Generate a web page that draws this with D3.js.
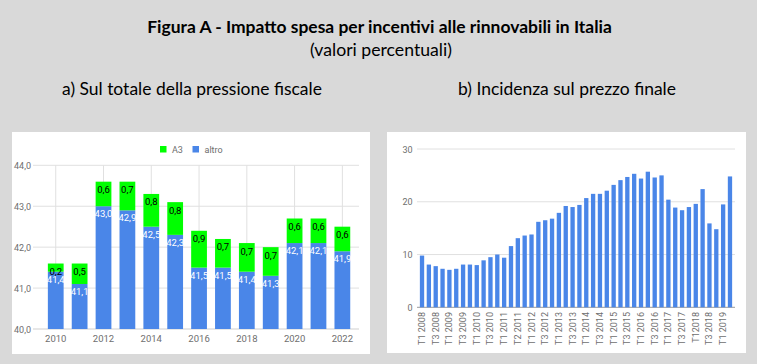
<!DOCTYPE html>
<html><head><meta charset="utf-8">
<script src="https://cdn.jsdelivr.net/npm/d3@7"></script>
<style>
html,body{margin:0;padding:0;background:#d9d9d9;}
svg{display:block;}
</style></head>
<body>
<svg id="c" width="757" height="364"></svg>
<script>
// ---- Data: panel a) ----
const years = [2010,2011,2012,2013,2014,2015,2016,2017,2018,2019,2020,2021,2022];
const altro = [41.4,41.1,43.0,42.9,42.5,42.3,41.5,41.5,41.4,41.3,42.1,42.1,41.9];
const a3 = [0.2,0.5,0.6,0.7,0.8,0.8,0.9,0.7,0.7,0.7,0.6,0.6,0.6];
const leftTicksY = [40,41,42,43,44];
const leftTicksX = [2010,2012,2014,2016,2018,2020,2022];
const seriesNames = ["A3","altro"];

// ---- Data: panel b) ----
const quarters = ["T1 2008","T2 2008","T3 2008","T4 2008","T1 2009","T2 2009","T3 2009","T4 2009",
  "T1 2010","T2 2010","T3 2010","T4 2010","T1 2011","T2 2011","T2 2011","T4 2011",
  "T1 2012","T2 2012","T3 2012","T4 2012","T1 2013","T2 2013","T3 2013","T4 2013",
  "T1 2014","T2 2014","T3 2014","T4 2014","T1 2015","T2 2015","T3 2015","T4 2015",
  "T1 2016","T2 2016","T3 2016","T4 2016","T1 2017","T2 2017","T3 2017","T4 2017",
  "T12018","T2 2018","T3 2018","T4 2018","T1 2019","T2 2019"];
const incidenza = [9.8,8.1,7.8,7.3,7.1,7.3,8.1,8.1,8.0,8.9,9.5,10.0,9.4,11.6,13.1,13.6,
  13.8,16.2,16.5,16.8,17.9,19.2,19.0,19.4,20.7,21.5,21.5,22.1,23.2,24.1,24.7,25.3,
  24.4,25.7,24.6,25.0,20.4,18.9,18.4,19.0,19.6,22.4,15.9,14.8,19.5,24.8];
const rightTicksY = [0,10,20,30];

// ---- Texts ----
const title = "Figura A - Impatto spesa per incentivi alle rinnovabili in Italia";
const subtitle = "(valori percentuali)";
const headA = "a) Sul totale della pressione fiscale";
const headB = "b) Incidenza sul prezzo finale";

const svg = d3.select("#c");
const GREEN = "#00ff00", BLUE = "#4a86e8", GRID = "#e0e0e0", TXT = "#6e6e6e";
const HF = "Lato, 'Open Sans', sans-serif";
const CF = "Roboto, 'Noto Sans', sans-serif";

function fitText(x, y, txt, width, weight, anchor) {
  const t = svg.append("text").attr("x", x).attr("y", y).attr("text-anchor", anchor || "middle")
    .attr("font-family", HF).attr("font-weight", weight).attr("font-size", 16).attr("fill", "#000").text(txt);
  const w = t.node().getComputedTextLength();
  t.attr("font-size", 16 * width / w);
  return t;
}
fitText(379.5, 33, title, 465, "bold");
fitText(381, 56, subtitle, 142, "normal");
fitText(62, 95, headA, 260, "normal", "start");
fitText(458, 95, headB, 218, "normal", "start");

// ---- Panel a ----
svg.append("rect").attr("x", 12).attr("y", 132).attr("width", 358).attr("height", 222).attr("fill", "#fff");
const xA = d3.scaleBand().domain(years).range([43.8, 354.3]).paddingInner(0.34).paddingOuter(0.17);
const yA = d3.scaleLinear().domain([40, 44]).range([329, 165.3]);
const gA = svg.append("g");
gA.selectAll("line.h").data(leftTicksY).join("line")
  .attr("x1", 33).attr("x2", 359).attr("y1", d => yA(d)).attr("y2", d => yA(d))
  .attr("stroke", d => d === 40 ? "#cfcfcf" : GRID).attr("stroke-width", 1);
gA.selectAll("line.v").data(leftTicksX).join("line")
  .attr("x1", d => xA(d) + xA.bandwidth() / 2).attr("x2", d => xA(d) + xA.bandwidth() / 2)
  .attr("y1", yA(44)).attr("y2", yA(40)).attr("stroke", GRID);
gA.selectAll("text.yt").data(leftTicksY).join("text")
  .attr("x", 31).attr("y", d => yA(d) + 3.5).attr("text-anchor", "end")
  .attr("font-family", CF).attr("font-size", 9).attr("fill", TXT)
  .text(d => d3.format(".1f")(d).replace(".", ","));
gA.selectAll("text.xt").data(leftTicksX).join("text")
  .attr("x", d => xA(d) + xA.bandwidth() / 2).attr("y", 342).attr("text-anchor", "middle")
  .attr("font-family", CF).attr("font-size", 9.5).attr("fill", TXT).text(d => d);
const fmt = v => d3.format(".1f")(v).replace(".", ",");
years.forEach((yr, i) => {
  const x = xA(yr), w = xA.bandwidth();
  const top1 = yA(altro[i]), top2 = yA(altro[i] + a3[i]);
  gA.append("rect").attr("x", x).attr("y", top1).attr("width", w).attr("height", yA(40) - top1).attr("fill", BLUE);
  gA.append("rect").attr("x", x).attr("y", top2).attr("width", w).attr("height", top1 - top2).attr("fill", GREEN);
  gA.append("text").attr("x", x + w / 2).attr("y", top2 + 11.5).attr("text-anchor", "middle")
    .attr("font-family", CF).attr("font-size", 9.5).attr("fill", "#000").text(fmt(a3[i]));
  gA.append("text").attr("x", x + w / 2).attr("y", top1 + 11).attr("text-anchor", "middle")
    .attr("font-family", CF).attr("font-size", 9.5).attr("fill", "#fff").text(fmt(altro[i]));
});
// legend
const legX = [160, 192.5];
seriesNames.forEach((n, i) => {
  gA.append("rect").attr("x", legX[i]).attr("y", 146).attr("width", 6.5).attr("height", 6.5)
    .attr("fill", i === 0 ? GREEN : BLUE);
  gA.append("text").attr("x", legX[i] + 12).attr("y", 152.5).attr("font-family", CF)
    .attr("font-size", 9).attr("fill", TXT).text(n);
});

// ---- Panel b ----
svg.append("rect").attr("x", 387).attr("y", 132).attr("width", 359).attr("height", 221).attr("fill", "#fff");
const idx = d3.range(quarters.length);
const xB = d3.scaleBand().domain(idx).range([418.6, 733.4]).paddingInner(0.37).paddingOuter(0.185);
const yB = d3.scaleLinear().domain([0, 30]).range([307.3, 149]);
const gB = svg.append("g");
gB.selectAll("line").data(rightTicksY).join("line")
  .attr("x1", 417).attr("x2", 735).attr("y1", d => yB(d)).attr("y2", d => yB(d))
  .attr("stroke", d => d === 0 ? "#9a9a9a" : GRID);
gB.selectAll("text.yt").data(rightTicksY).join("text")
  .attr("x", 412.5).attr("y", d => yB(d) + 3.5).attr("text-anchor", "end")
  .attr("font-family", CF).attr("font-size", 9).attr("fill", TXT).text(d => d);
gB.selectAll("rect.bar").data(idx).join("rect")
  .attr("x", i => xB(i)).attr("width", xB.bandwidth())
  .attr("y", i => yB(incidenza[i])).attr("height", i => yB(0) - yB(incidenza[i])).attr("fill", BLUE);
gB.selectAll("text.xt").data(idx.filter(i => i % 2 === 0)).join("text")
  .attr("transform", i => `translate(${xB(i) + xB.bandwidth() / 2 + 3},312) rotate(-90)`)
  .attr("text-anchor", "end").attr("font-family", CF).attr("font-size", 9).attr("fill", TXT)
  .text(i => quarters[i]);
</script>
</body></html>
